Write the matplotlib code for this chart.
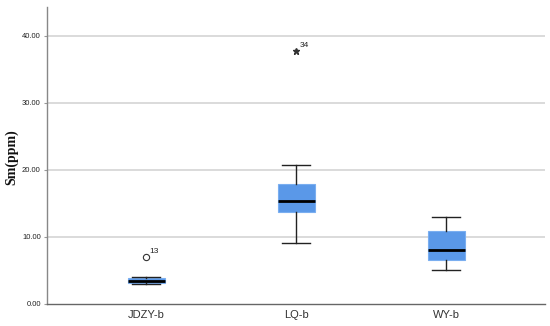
import matplotlib
matplotlib.use("Agg")
import matplotlib.pyplot as plt

categories = ["JDZY-b", "LQ-b", "WY-b"]
medians = [3.5, 15.3, 8.0]
q1 = [3.15, 13.7, 6.6]
q3 = [3.95, 17.9, 10.9]
whis_lo = [3.0, 9.15, 5.0]
whis_hi = [4.0, 20.7, 13.0]
outlier_values = [[7.0], [37.7], []]
outlier_ids = [["13"], ["34"], []]
outlier_kind = ["o", "*", None]
y_ticks = [0, 10, 20, 30, 40]

fig = plt.figure(figsize=(5.5, 3.26), dpi=100)
ax = fig.add_axes([0.0855, 0.0675, 0.9055, 0.911])

stats = []
for i, name in enumerate(categories):
    stats.append({
        "label": name,
        "med": medians[i],
        "q1": q1[i],
        "q3": q3[i],
        "whislo": whis_lo[i],
        "whishi": whis_hi[i],
        "fliers": [],
    })

positions = list(range(1, len(categories) + 1))
ax.bxp(
    stats,
    positions=positions,
    widths=0.247,
    patch_artist=True,
    showfliers=False,
    boxprops=dict(facecolor="#5a98e8", edgecolor="#7aaef0", linewidth=0.8),
    medianprops=dict(color="black", linewidth=2.0),
    whiskerprops=dict(color="#222222", linewidth=1.0),
    capprops=dict(color="#222222", linewidth=1.0),
    capwidths=0.19,
    zorder=3,
)

for pos, vals, ids, kind in zip(positions, outlier_values, outlier_ids, outlier_kind):
    for v, label in zip(vals, ids):
        if kind == "o":
            ax.plot(pos, v, marker="o", markersize=4.5, markerfacecolor="white",
                    markeredgecolor="#333333", markeredgewidth=0.8, zorder=4)
        else:
            ax.plot(pos, v, marker="*", markersize=5, color="#333333", zorder=4)
        ax.annotate(label, (pos, v), xytext=(2.5, 3), textcoords="offset points",
                    fontsize=6, family="Liberation Sans", color="#222222")

ax.set_xlim(0.34, 3.66)
ax.set_ylim(0, 44.3)
ax.set_yticks(y_ticks)
ax.set_yticklabels([f"{t:.2f}" for t in y_ticks], fontsize=5.5,
                   family="Liberation Sans", color="#222222")
ax.set_xticks(positions)
ax.set_xticklabels(categories, fontsize=8, family="Liberation Sans", color="#333333")
ax.tick_params(axis="x", length=0, pad=4)
ax.tick_params(axis="y", length=2.5, width=0.8, color="#999999", pad=2)

for t in y_ticks[1:]:
    ax.axhline(t, color="#d4d4d4", linewidth=1.2, zorder=1)

ax.set_ylabel("Sm(ppm)", family="Liberation Serif", fontsize=10, fontweight="bold",
              color="#111111")
ax.yaxis.set_label_coords(-0.057, 0.495)

for side in ["top", "right"]:
    ax.spines[side].set_visible(False)
ax.spines["left"].set_color("#888888")
ax.spines["bottom"].set_color("#666666")
ax.spines["left"].set_linewidth(1.0)
ax.spines["bottom"].set_linewidth(1.0)

fig.savefig("out.png", dpi=100)
